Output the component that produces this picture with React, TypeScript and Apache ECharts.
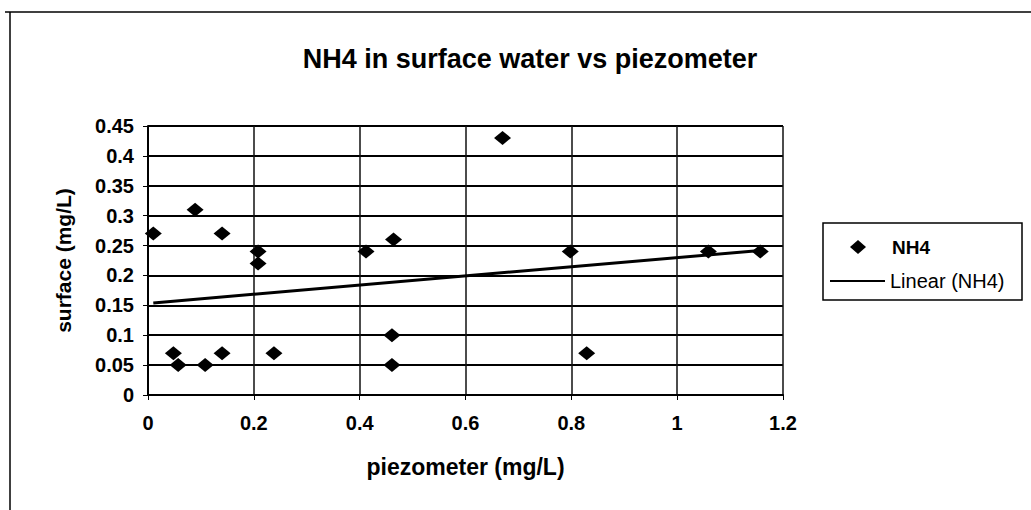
import React, { useEffect, useRef } from "react";
import * as echarts from "echarts";

const titleText = "NH4 in surface water vs piezometer";
const xAxisName = "piezometer (mg/L)";
const yAxisName = "surface (mg/L)";
const seriesName = "NH4";
const trendName = "Linear (NH4)";

const piezometer = [0.01, 0.089, 0.14, 0.208, 0.208, 0.412, 0.464, 0.048, 0.057, 0.108, 0.14, 0.238, 0.461, 0.461, 0.67, 0.798, 1.059, 1.157, 0.829];
const surface = [0.27, 0.31, 0.27, 0.24, 0.22, 0.24, 0.26, 0.07, 0.05, 0.05, 0.07, 0.07, 0.1, 0.05, 0.43, 0.24, 0.24, 0.24, 0.07];

const xMin = 0, xMax = 1.2, xStep = 0.2;
const yMin = 0, yMax = 0.45, yStep = 0.05;

const FONT = "'Liberation Sans', Arial, sans-serif";

function linearFit(xs: number[], ys: number[]) {
  const n = xs.length;
  const mx = xs.reduce((a, b) => a + b, 0) / n;
  const my = ys.reduce((a, b) => a + b, 0) / n;
  let sxy = 0, sxx = 0;
  for (let i = 0; i < n; i++) {
    sxy += (xs[i] - mx) * (ys[i] - my);
    sxx += (xs[i] - mx) * (xs[i] - mx);
  }
  const slope = sxy / sxx;
  const intercept = my - slope * mx;
  return { slope, intercept };
}

export default function App() {
  const ref = useRef<HTMLDivElement>(null);
  useEffect(() => {
    if (!ref.current) return;
    const chart = echarts.init(ref.current, null, { renderer: "svg" });
    const pts = piezometer.map((x, i) => [x, surface[i]]);
    const { slope, intercept } = linearFit(piezometer, surface);
    const lo = Math.min(...piezometer);
    const hi = Math.max(...piezometer);
    const trend = [[lo, intercept + slope * lo], [hi, intercept + slope * hi]];

    chart.setOption({
      animation: false,
      backgroundColor: "#fff",
      title: {
        text: titleText,
        left: 525,
        textAlign: "center",
        top: 40,
        textStyle: { fontFamily: FONT, fontWeight: "bold", fontSize: 27, color: "#000" },
      },
      grid: { left: 148, top: 126, width: 635, height: 269, containLabel: false },
      xAxis: {
        type: "value",
        min: xMin,
        max: xMax,
        interval: xStep,
        name: xAxisName,
        nameLocation: "middle",
        nameGap: 60,
        nameTextStyle: { fontFamily: FONT, fontWeight: "bold", fontSize: 23, color: "#000" },
        axisLine: { onZero: false, lineStyle: { color: "#000", width: 2 } },
        axisTick: { show: true, length: 5, lineStyle: { color: "#000", width: 1 } },
        axisLabel: { margin: 18, fontFamily: FONT, fontWeight: "bold", fontSize: 20, color: "#000" },
        splitLine: { show: true, lineStyle: { color: "#111", width: 1.5 } },
      },
      yAxis: {
        type: "value",
        min: yMin,
        max: yMax,
        interval: yStep,
        name: yAxisName,
        nameLocation: "middle",
        nameGap: 74,
        nameTextStyle: { fontFamily: FONT, fontWeight: "bold", fontSize: 21, color: "#000" },
        axisLine: { show: true, onZero: false, lineStyle: { color: "#000", width: 2 } },
        axisTick: { show: true, length: 5, lineStyle: { color: "#000", width: 1 } },
        axisLabel: { margin: 14, fontFamily: FONT, fontWeight: "bold", fontSize: 20, color: "#000" },
        splitLine: { show: true, lineStyle: { color: "#000", width: 2 } },
      },
      series: [
        {
          name: seriesName,
          type: "scatter",
          data: pts,
          symbol: "diamond",
          symbolSize: [17, 14],
          itemStyle: { color: "#000", opacity: 1 },
          z: 3,
        },
        {
          name: trendName,
          type: "line",
          data: trend,
          showSymbol: false,
          symbol: "none",
          lineStyle: { color: "#000", width: 3 },
          z: 2,
        },
      ],
      graphic: [
        { type: "line", shape: { x1: 5, y1: 12, x2: 1031, y2: 12 }, style: { stroke: "#000", lineWidth: 1.5 } },
        { type: "line", shape: { x1: 10, y1: 12, x2: 10, y2: 510 }, style: { stroke: "#000", lineWidth: 1.5 } },
        { type: "rect", shape: { x: 823, y: 223, width: 199, height: 77 }, style: { fill: "#fff", stroke: "#000", lineWidth: 1.5 } },
        { type: "polygon", shape: { points: [[858, 240], [866, 247], [858, 254], [850, 247]] }, style: { fill: "#000" } },
        { type: "text", x: 892, y: 247, style: { text: seriesName, font: `bold 19px ${FONT}`, fill: "#000", verticalAlign: "middle" } },
        { type: "line", shape: { x1: 830, y1: 281, x2: 885, y2: 281 }, style: { stroke: "#000", lineWidth: 2 } },
        { type: "text", x: 890, y: 281, style: { text: trendName, font: `20px ${FONT}`, fill: "#000", verticalAlign: "middle" } },
      ],
    });
    return () => chart.dispose();
  }, []);
  return <div ref={ref} style={{ position: "fixed", left: 0, top: 0, width: 1031, height: 510 }} />;
}
